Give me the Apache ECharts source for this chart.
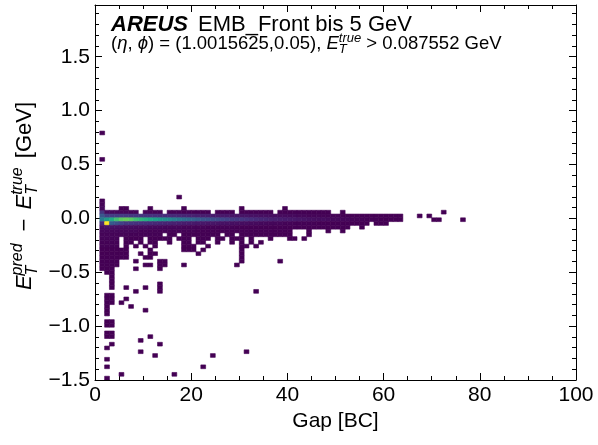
<!DOCTYPE html>
<html>
<head>
<meta charset="utf-8">
<script src="https://cdn.jsdelivr.net/npm/echarts@6/dist/echarts.min.js"></script>
<style>
  html, body { margin: 0; padding: 0; background: #fff; }
  #chart { width: 598px; height: 445px; }
</style>
</head>
<body>
<div id="chart"></div>
<script>
// ---------------------------------------------------------------------------
// Histogram binning and axis ranges
// ---------------------------------------------------------------------------
const GAP_BIN = 1;            // BC per column
const DELTA_BIN = 0.035;      // GeV per row
const GAP_RANGE = [0, 100];
const DELTA_RANGE = [-1.5, 1.98];
const GAP_TICK_STEP = 20;
const GAP_MINOR_SPLIT = 4;
const DELTA_TICK_STEP = 0.5;
const DELTA_MINOR_STEP = 0.1;
const COUNT_RANGE = [1, 180];

// Dense core around zero: entries per gap bin (array index = gap in BC),
// one array per E_T residual row (lower bin edge in GeV).
const coreRowEdges = [0.040, 0.005, -0.030, -0.065, -0.100];
const row0040 = [0,28,6,5,4,4,4,3,3,0, 3,3,2,2,0,2,2,2,1,2, 1,1,1,1,0,1,1,1,1,0,
                 1,1,1,1,1,1,1,0,1,1, 1,1,1,1,1,1,1,1,1,0, 0,1,0,0,0,0,0,0,0,0,
                 0,0,0,0,0,0,0,0,0,0, 0,0,1];
const row0005 = [0,50,34,33,32,32,31,30,29,28, 27,26,25,24,23,22,21,20,19,18,
                 17,16,15,15,14,13,12,12,11,11, 10,10,9,9,8,8,7,7,6,6,
                 5,5,4,4,3,3,3,2,2,2, 2,1,1,1,1,1,1,1,1,1,
                 1,1,1,1,0,0,0,1,0,1];
const rowM0030 = [0,75,95,108,125,135,138,134,125,118, 112,106,100,94,88,82,76,70,65,60,
                  56,52,48,46,44,41,38,35,32,30, 28,26,24,22,20,19,17,16,15,14,
                  13,12,11,10,9,8,7,7,6,5, 5,4,4,3,3,3,2,2,2,1,
                  1,1,1,1,0,0,0,0,0,0, 1,1,0,0,0,0,1];
const rowM0065 = [0,22,180,52,44,36,30,28,26,24, 23,22,21,20,19,18,17,16,15,14,
                  13,12,12,11,11,10,9,9,8,8, 7,7,6,6,5,5,4,4,4,3,
                  3,2,2,2,2,2,1,1,1,1, 1,1,1,1,1,1,1,0,1,1, 1];
const rowM0100 = [0,8,10,9,8,8,7,7,6,6, 6,5,5,5,4,4,4,4,3,3,
                  3,3,3,2,2,2,2,2,2,1, 1,1,1,1,1,1,1,1,1,1,
                  1,1,1,1,1,1,1,1,1,1, 1,1,1,0,0,1];
const coreRowCounts = [row0040, row0005, rowM0030, rowM0065, rowM0100];

// Sparse entries above the core: [row lower edge (GeV), first gap, last gap, entries per bin]
const upperTail = [
  [0.775, 1, 1, 1],
  [0.530, 1, 1, 1],
  [0.180, 17, 17, 1],
  [0.145, 1, 1, 2],
  [0.110, 1, 1, 3],
  [0.075, 1, 1, 5], [0.075, 5, 6, 1], [0.075, 11, 11, 1], [0.075, 18, 18, 1],
  [0.075, 30, 30, 1], [0.075, 39, 39, 1]
];

// Sparse entries below the core: [row lower edge (GeV), first gap, last gap, entries per bin]
const lowerTail = [
  [-0.135, 1, 8, 4], [-0.135, 9, 20, 2], [-0.135, 21, 40, 1], [-0.135, 44, 44, 1],
  [-0.135, 48, 48, 1], [-0.135, 51, 51, 1],
  [-0.170, 1, 6, 3], [-0.170, 7, 13, 2], [-0.170, 15, 16, 1], [-0.170, 18, 25, 1],
  [-0.170, 27, 28, 1], [-0.170, 30, 40, 1], [-0.170, 44, 44, 1],
  [-0.205, 1, 4, 3], [-0.205, 6, 9, 1], [-0.205, 11, 15, 1], [-0.205, 17, 19, 1],
  [-0.205, 21, 23, 1], [-0.205, 25, 26, 1], [-0.205, 28, 30, 1], [-0.205, 32, 32, 1],
  [-0.205, 36, 36, 1], [-0.205, 40, 41, 1], [-0.205, 43, 43, 1],
  [-0.240, 1, 4, 2], [-0.240, 6, 7, 1], [-0.240, 9, 9, 1], [-0.240, 11, 12, 1],
  [-0.240, 15, 15, 1], [-0.240, 18, 19, 1], [-0.240, 21, 22, 1], [-0.240, 25, 25, 1],
  [-0.240, 28, 28, 1], [-0.240, 30, 30, 1], [-0.240, 32, 32, 1], [-0.240, 34, 34, 1],
  [-0.275, 1, 4, 2], [-0.275, 6, 6, 1], [-0.275, 8, 8, 1], [-0.275, 10, 10, 1],
  [-0.275, 12, 12, 1], [-0.275, 18, 20, 1], [-0.275, 23, 23, 1], [-0.275, 30, 31, 1],
  [-0.275, 33, 33, 1],
  [-0.310, 1, 6, 1], [-0.310, 11, 11, 1], [-0.310, 18, 20, 1], [-0.310, 22, 22, 1],
  [-0.310, 30, 30, 1],
  [-0.345, 1, 6, 1], [-0.345, 9, 9, 1], [-0.345, 11, 12, 1], [-0.345, 21, 21, 1],
  [-0.345, 30, 30, 1],
  [-0.380, 1, 6, 1], [-0.380, 10, 11, 1], [-0.380, 30, 30, 1],
  [-0.415, 1, 4, 1], [-0.415, 8, 8, 1], [-0.415, 13, 14, 1], [-0.415, 30, 30, 1],
  [-0.415, 38, 38, 1],
  [-0.450, 1, 4, 1], [-0.450, 10, 11, 1], [-0.450, 13, 14, 1], [-0.450, 18, 18, 1],
  [-0.450, 29, 29, 1],
  [-0.485, 1, 3, 1], [-0.485, 8, 8, 1], [-0.485, 13, 13, 1],
  [-0.520, 2, 3, 1],
  [-0.555, 3, 3, 1],
  [-0.590, 3, 3, 1],
  [-0.625, 3, 3, 1], [-0.625, 13, 13, 1],
  [-0.660, 3, 3, 1], [-0.660, 6, 6, 1], [-0.660, 10, 10, 1], [-0.660, 13, 13, 1],
  [-0.695, 8, 8, 1], [-0.695, 13, 13, 1], [-0.695, 33, 33, 1],
  [-0.730, 2, 3, 1],
  [-0.765, 2, 3, 1], [-0.765, 6, 6, 1],
  [-0.800, 2, 3, 1], [-0.800, 5, 5, 1],
  [-0.835, 2, 2, 1], [-0.835, 7, 7, 1],
  [-0.870, 2, 2, 1], [-0.870, 10, 10, 1],
  [-0.905, 2, 2, 1],
  [-0.975, 2, 3, 1],
  [-1.010, 2, 3, 1],
  [-1.080, 2, 3, 1],
  [-1.115, 2, 3, 1], [-1.115, 11, 11, 1],
  [-1.150, 9, 9, 1],
  [-1.185, 3, 3, 1], [-1.185, 13, 13, 1],
  [-1.220, 2, 2, 1],
  [-1.255, 9, 9, 1], [-1.255, 31, 31, 1],
  [-1.290, 12, 12, 1], [-1.290, 24, 24, 1],
  [-1.325, 2, 2, 1],
  [-1.395, 2, 2, 1], [-1.395, 22, 22, 1],
  [-1.465, 5, 5, 1], [-1.465, 16, 16, 1],
  [-1.500, 2, 2, 1]
];

// viridis colour map
const VIRIDIS = ['#440154', '#48186a', '#472d7b', '#424086', '#3b528b', '#33638d',
  '#2c728e', '#26828e', '#21918c', '#1fa088', '#28ae80', '#3fbc73', '#5ec962',
  '#84d44b', '#addc30', '#d8e219', '#fde725'];

// ---------------------------------------------------------------------------
// Histogram cells: [gap lower edge, residual lower edge, entries]
// ---------------------------------------------------------------------------
const cells = [];
coreRowCounts.forEach((counts, i) => {
  counts.forEach((n, g) => { if (n > 0) cells.push([g * GAP_BIN, coreRowEdges[i], n]); });
});
[...upperTail, ...lowerTail].forEach(([edge, g0, g1, n]) => {
  for (let g = g0; g <= g1; g++) cells.push([g * GAP_BIN, edge, n]);
});

// ---------------------------------------------------------------------------
// Text with sub/superscripts, laid out as separate text pieces
// ---------------------------------------------------------------------------
const FONT_FAMILY = '"Liberation Sans", "DejaVu Sans", Arial, sans-serif';
const measureCtx = document.createElement('canvas').getContext('2d');

function fontOf(r) {
  return `${r.italic ? 'italic ' : ''}${r.bold ? 'bold ' : ''}${r.size}px ${FONT_FAMILY}`;
}

// Lays runs out along a baseline at y = 0 starting at x = 0.
// pre/post add extra horizontal space around a run.
function layoutRuns(runs) {
  const children = [];
  let x = 0, prevStart = 0, prevWidth = 0;
  runs.forEach(r => {
    const font = fontOf(r);
    measureCtx.font = font;
    const w = measureCtx.measureText(r.text).width;
    const start = r.stack ? prevStart : x + (r.pre || 0);
    children.push({
      type: 'text', x: start, y: (r.dy || 0) - 0.35 * r.size, silent: true,
      style: { text: r.text, font: font, fill: '#000', textAlign: 'left', textVerticalAlign: 'middle' }
    });
    if (r.stack) {
      x = prevStart + Math.max(prevWidth, w) + (r.post || 0);
    } else {
      prevStart = start; prevWidth = w; x = start + w + (r.post || 0);
    }
  });
  return { children, width: x };
}

const yTitle = layoutRuns([
  { text: 'E', size: 22, italic: true },
  { text: 'T', size: 16, italic: true, dy: 5 },
  { text: 'pred', size: 16, italic: true, dy: -10, stack: true, post: 3 },
  { text: '\u2212', size: 22, pre: 9, post: 9 },
  { text: 'E', size: 22, italic: true },
  { text: 'T', size: 16, italic: true, dy: 5 },
  { text: 'true', size: 16, italic: true, dy: -10, stack: true, post: 3 },
  { text: ' [GeV]', size: 22 }
]);

const headline = layoutRuns([
  { text: 'AREUS', size: 22, italic: true, bold: true }
]);
const subtitle = layoutRuns([
  { text: 'EMB_Front bis 5 GeV', size: 22 }
]);
const selection = layoutRuns([
  { text: '(', size: 18.5 },
  { text: '\u03b7', size: 18.5, italic: true },
  { text: ', ', size: 18.5 },
  { text: '\u03d5', size: 18.5, italic: true },
  { text: ') = (1.0015625,0.05), ', size: 18.5 },
  { text: 'E', size: 18.5, italic: true },
  { text: 'T', size: 13, italic: true, dy: 4 },
  { text: 'true', size: 13, italic: true, dy: -7.5, stack: true },
  { text: ' > 0.087552 GeV', size: 18.5 }
]);

// ---------------------------------------------------------------------------
// Chart
// ---------------------------------------------------------------------------
const chart = echarts.init(document.getElementById('chart'), null, { renderer: 'canvas' });

const frameLine = { show: true, onZero: false, lineStyle: { color: '#000', width: 1 } };
const labelStyle = { fontFamily: FONT_FAMILY, fontSize: 21, color: '#000' };

function fmtDelta(v) {
  if (Math.abs(v / DELTA_TICK_STEP - Math.round(v / DELTA_TICK_STEP)) > 1e-6) return '';
  const s = Math.abs(v).toFixed(1);
  return v < -1e-9 ? '\u2212' + s : s;
}

const xCommon = {
  type: 'value', min: GAP_RANGE[0], max: GAP_RANGE[1], interval: GAP_TICK_STEP,
  splitLine: { show: false }, axisLine: frameLine,
  axisTick: { show: true, inside: true, length: 7, lineStyle: { color: '#000', width: 1 } },
  minorTick: { show: true, splitNumber: GAP_MINOR_SPLIT, length: 4, lineStyle: { color: '#000', width: 1 } },
  minorSplitLine: { show: false }
};
const yMajor = {
  type: 'value', min: DELTA_RANGE[0], max: DELTA_RANGE[1], interval: DELTA_TICK_STEP,
  splitLine: { show: false }, axisLine: frameLine,
  axisTick: { show: true, inside: true, length: 7, lineStyle: { color: '#000', width: 1 } }
};
const yMinor = {
  type: 'value', min: DELTA_RANGE[0], max: DELTA_RANGE[1], interval: DELTA_MINOR_STEP,
  splitLine: { show: false }, axisLine: { show: false, onZero: false }, axisLabel: { show: false },
  axisTick: { show: true, inside: true, length: 4, lineStyle: { color: '#000', width: 1 } }
};

chart.setOption({
  animation: false,
  backgroundColor: '#fff',
  grid: { left: 95, right: 22, top: 5, bottom: 65, containLabel: false },
  xAxis: [
    Object.assign({}, xCommon, {
      position: 'bottom',
      name: 'Gap [BC]', nameLocation: 'middle', nameGap: 29,
      nameTextStyle: labelStyle,
      axisLabel: Object.assign({ margin: 5, showMinLabel: true, showMaxLabel: true }, labelStyle)
    }),
    Object.assign({}, xCommon, { position: 'top', axisLabel: { show: false } })
  ],
  yAxis: [
    Object.assign({}, yMajor, {
      position: 'left',
      axisLabel: Object.assign({ margin: 5, showMinLabel: true, showMaxLabel: false, formatter: fmtDelta }, labelStyle)
    }),
    Object.assign({}, yMajor, { position: 'right', axisLabel: { show: false } }),
    Object.assign({}, yMinor, { position: 'left' }),
    Object.assign({}, yMinor, { position: 'right' })
  ],
  visualMap: {
    type: 'continuous', show: false, seriesIndex: 0, dimension: 2,
    min: COUNT_RANGE[0], max: COUNT_RANGE[1],
    inRange: { color: VIRIDIS }
  },
  series: [{
    type: 'custom',
    xAxisIndex: 0, yAxisIndex: 0,
    data: cells,
    encode: { x: 0, y: 1 },
    clip: true,
    silent: true,
    renderItem: function (params, api) {
      const g = api.value(0), d = api.value(1);
      const tl = api.coord([g, d + DELTA_BIN]);
      const br = api.coord([g + GAP_BIN, d]);
      const c = api.visual('color');
      return {
        type: 'rect',
        shape: { x: tl[0], y: tl[1], width: br[0] - tl[0], height: br[1] - tl[1] },
        style: { fill: c, stroke: c, lineWidth: 0.6 }
      };
    }
  }],
  graphic: [
    { type: 'group', x: 111, y: 33, children: headline.children, silent: true },
    { type: 'group', x: 198, y: 33, children: subtitle.children, silent: true },
    { type: 'group', x: 111, y: 50, children: selection.children, silent: true },
    { type: 'group', x: 33, y: 196 + yTitle.width / 2, rotation: Math.PI / 2,
      children: yTitle.children, silent: true }
  ]
});
</script>
</body>
</html>
